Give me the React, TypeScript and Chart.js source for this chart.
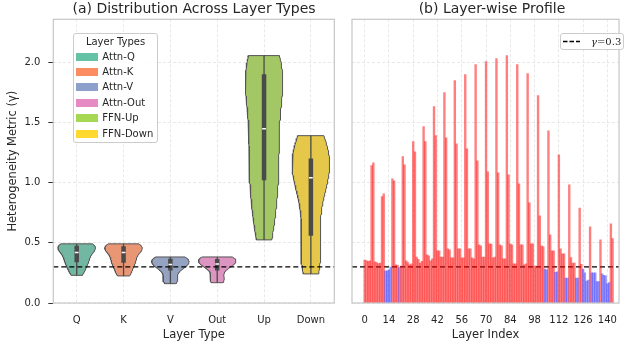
import React, { useEffect, useRef } from 'react';
import { Chart, registerables } from 'chart.js';

Chart.register(...registerables);

// ---------------- data ----------------
const TYPE_LABELS = ['Q', 'K', 'V', 'Out', 'Up', 'Down'];
const LEGEND_LABELS = ['Attn-Q', 'Attn-K', 'Attn-V', 'Attn-Out', 'FFN-Up', 'FFN-Down'];
const LEGEND_COLORS = ['#66c2a5', '#fc8d62', '#8da0cb', '#e78ac3', '#a6d854', '#ffd92f'];
const VIOLIN_COLORS = ['#71b7a1', '#e99675', '#95a3c3', '#dc95c0', '#a2c764', '#e5c849'];

// per-block values (24 blocks, 6 linear layers each)
const Q_VALUES = [0.358, 0.342, 0.267, 0.317, 0.35, 0.381, 0.40, 0.433, 0.45, 0.45, 0.45, 0.483, 0.492, 0.483, 0.492, 0.483, 0.492, 0.475, 0.433, 0.408, 0.333, 0.283, 0.25, 0.23];
const K_VALUES = [0.353, 0.336, 0.267, 0.314, 0.336, 0.364, 0.392, 0.433, 0.442, 0.45, 0.45, 0.475, 0.49, 0.475, 0.483, 0.483, 0.492, 0.47, 0.433, 0.408, 0.333, 0.25, 0.25, 0.225];
const V_VALUES = [0.347, 0.328, 0.275, 0.295, 0.317, 0.333, 0.35, 0.383, 0.375, 0.375, 0.375, 0.383, 0.375, 0.367, 0.325, 0.317, 0.308, 0.283, 0.256, 0.208, 0.208, 0.183, 0.178, 0.161];
const OUT_VALUES = [0.35, 0.333, 0.298, 0.308, 0.325, 0.347, 0.367, 0.383, 0.375, 0.375, 0.367, 0.383, 0.383, 0.367, 0.325, 0.325, 0.308, 0.275, 0.26, 0.208, 0.208, 0.19, 0.178, 0.169];
const UP_VALUES = [1.144, 0.886, 1.033, 1.217, 1.342, 1.467, 1.633, 1.75, 1.85, 1.9, 1.983, 2.008, 2.033, 2.058, 1.983, 1.908, 1.725, 1.433, 1.233, 0.983, 0.789, 0.633, 0.525, 0.658];
const DOWN_VALUES = [1.167, 0.908, 1.017, 1.15, 1.258, 1.342, 1.392, 1.375, 1.325, 1.283, 1.183, 1.092, 1.083, 1.067, 0.992, 0.833, 0.725, 0.567, 0.45, 0.378, 0.322, 0.25, 0.242, 0.536];

const THRESHOLD = 0.3;
const Y_TICKS = [0, 0.5, 1.0, 1.5, 2.0];
const X_TICKS = [0, 14, 28, 42, 56, 70, 84, 98, 112, 126, 140];

const FONT = "'DejaVu Sans', sans-serif";
const TEXT = '#262626';
const GRID = '#e2e2e2';
const LINE = '#4a4a4a';

// ---------------- helpers ----------------
function quantile(sorted: number[], p: number) {
  const pos = (sorted.length - 1) * p;
  const lo = Math.floor(pos);
  const hi = Math.ceil(pos);
  return sorted[lo] + (sorted[hi] - sorted[lo]) * (pos - lo);
}

function kde(values: number[], n = 100) {
  const N = values.length;
  const mean = values.reduce((a, b) => a + b, 0) / N;
  const sd = Math.sqrt(values.reduce((a, b) => a + (b - mean) ** 2, 0) / (N - 1));
  const bw = sd * Math.pow(N, -0.2);
  const lo = Math.min(...values);
  const hi = Math.max(...values);
  const ys: number[] = [];
  const ds: number[] = [];
  for (let k = 0; k <= n; k++) {
    const y = lo + ((hi - lo) * k) / n;
    let d = 0;
    for (const v of values) d += Math.exp(-0.5 * ((y - v) / bw) ** 2);
    ys.push(y);
    ds.push(d);
  }
  const mx = Math.max(...ds);
  return { ys, ws: ds.map((d) => (0.4 * d) / mx) };
}

const framePlugin = {
  id: 'frame',
  afterDraw(chart: any) {
    const { ctx, chartArea: a } = chart;
    ctx.save();
    ctx.strokeStyle = '#c6c6c6';
    ctx.lineWidth = 1.2;
    ctx.strokeRect(a.left, a.top, a.right - a.left, a.bottom - a.top);
    ctx.restore();
  },
};

export default function App() {
  const leftRef = useRef<HTMLCanvasElement>(null);
  const rightRef = useRef<HTMLCanvasElement>(null);

  useEffect(() => {
    const groups = [Q_VALUES, K_VALUES, V_VALUES, OUT_VALUES, UP_VALUES, DOWN_VALUES];
    const layerValues: number[] = [];
    for (let b = 0; b < Q_VALUES.length; b++) groups.forEach((g) => layerValues.push(g[b]));

    // ----- left: violins -----
    const leftSets: any[] = [];
    leftSets.push({
      data: [{ x: -0.5, y: THRESHOLD }, { x: 5.5, y: THRESHOLD }],
      borderColor: '#000', borderWidth: 1.3, borderDash: [5, 3], pointRadius: 0, order: 0,
    });
    groups.forEach((vals, i) => {
      const sorted = [...vals].sort((a, b) => a - b);
      const q1 = quantile(sorted, 0.25);
      const q3 = quantile(sorted, 0.75);
      const med = quantile(sorted, 0.5);
      const iqr = q3 - q1;
      const wlo = Math.max(sorted[0], q1 - 1.5 * iqr);
      const whi = Math.min(sorted[sorted.length - 1], q3 + 1.5 * iqr);
      const { ys, ws } = kde(vals);
      const pts: any[] = [];
      for (let k = 0; k < ys.length; k++) pts.push({ x: i + ws[k], y: ys[k] });
      for (let k = ys.length - 1; k >= 0; k--) pts.push({ x: i - ws[k], y: ys[k] });
      pts.push({ ...pts[0] });
      leftSets.push({
        data: pts, borderColor: '#555', borderWidth: 1, backgroundColor: VIOLIN_COLORS[i],
        fill: 'shape', pointRadius: 0, tension: 0, order: 4,
      });
      leftSets.push({
        data: [{ x: i, y: wlo }, { x: i, y: whi }], borderColor: LINE, borderWidth: 1.3, pointRadius: 0, order: 3,
      });
      leftSets.push({
        data: [{ x: i, y: q1 }, { x: i, y: q3 }], borderColor: LINE, borderWidth: 4.5, borderCapStyle: 'butt', pointRadius: 0, order: 2,
      });
      leftSets.push({
        data: [{ x: i - 0.04, y: med }, { x: i + 0.04, y: med }], borderColor: '#fff', borderWidth: 1.5, pointRadius: 0, order: 1,
      });
    });

    const yCommon = {
      type: 'linear', min: 0, max: 2.36,
      afterBuildTicks: (s: any) => { s.ticks = Y_TICKS.map((v) => ({ value: v })); },
    };

    const left = new Chart(leftRef.current as HTMLCanvasElement, {
      type: 'line',
      data: { datasets: leftSets },
      options: {
        animation: false, responsive: false, events: [],
        layout: { padding: { left: 0, right: 5.7, top: 19.3, bottom: 0 } },
        plugins: { legend: { display: false }, tooltip: { enabled: false } },
        scales: {
          x: {
            type: 'linear', min: -0.5, max: 5.5,
            afterBuildTicks: (s: any) => { s.ticks = TYPE_LABELS.map((_, i) => ({ value: i })); },
            afterFit: (s: any) => { s.height = 44; },
            ticks: { callback: (v: any) => TYPE_LABELS[v] ?? '', padding: 11, color: TEXT, font: { size: 10, family: FONT }, autoSkip: false, maxRotation: 0 },
            grid: { color: GRID, lineWidth: 0.8, drawTicks: false },
            border: { display: false, dash: [3, 2] },
            title: { display: true, text: 'Layer Type', color: TEXT, font: { size: 11.5, family: FONT }, padding: { top: 0, bottom: 5.1 } },
          },
          y: {
            ...yCommon,
            afterFit: (s: any) => { s.width = 53.3; },
            ticks: { callback: (v: any) => Number(v).toFixed(1), padding: 8, color: TEXT, font: { size: 10, family: FONT } },
            grid: { color: GRID, lineWidth: 0.8, drawTicks: true, tickLength: 5, tickColor: '#333', tickWidth: 1, tickBorderDash: [] },
            border: { display: false, dash: [3, 2] },
            title: { display: true, text: 'Heterogeneity Metric (γ)', color: TEXT, font: { size: 11.5, family: FONT }, padding: { top: 6.6, bottom: 0 } },
          },
        },
      } as any,
      plugins: [framePlugin],
    });

    // ----- right: layer-wise bars -----
    const barData = layerValues.map((v, i) => ({ x: i, y: v }));
    const barColors = layerValues.map((v) => (v >= THRESHOLD ? 'rgba(255,0,0,0.5)' : 'rgba(0,0,255,0.4)'));

    const right = new Chart(rightRef.current as HTMLCanvasElement, {
      type: 'bar',
      data: {
        datasets: [
          {
            type: 'bar', data: barData, backgroundColor: barColors, borderWidth: 0,
            barPercentage: 1, categoryPercentage: 1, grouped: false, order: 0,
          } as any,
          {
            type: 'line', data: [{ x: -7.3, y: THRESHOLD }, { x: 146.7, y: THRESHOLD }],
            borderColor: '#000', borderWidth: 1.3, borderDash: [5, 3], pointRadius: 0, order: 1,
          } as any,
        ],
      },
      options: {
        animation: false, responsive: false, events: [],
        layout: { padding: { left: 0, right: 1, top: 19.3, bottom: 0 } },
        plugins: { legend: { display: false }, tooltip: { enabled: false } },
        scales: {
          x: {
            type: 'linear', min: -7.3, max: 146.7, offset: false,
            afterBuildTicks: (s: any) => { s.ticks = X_TICKS.map((v) => ({ value: v })); },
            afterFit: (s: any) => { s.height = 44; },
            ticks: { padding: 11, color: TEXT, font: { size: 10, family: FONT }, autoSkip: false, maxRotation: 0 },
            grid: { color: GRID, lineWidth: 0.8, drawTicks: false, offset: false },
            border: { display: false, dash: [3, 2] },
            title: { display: true, text: 'Layer Index', color: TEXT, font: { size: 11.5, family: FONT }, padding: { top: 0, bottom: 5.1 } },
          },
          y: {
            ...yCommon,
            afterFit: (s: any) => { s.width = 12; },
            ticks: { display: false },
            grid: { color: GRID, lineWidth: 0.8, drawTicks: false },
            border: { display: false, dash: [3, 2] },
          },
        },
      } as any,
      plugins: [framePlugin],
    });

    return () => {
      left.destroy();
      right.destroy();
    };
  }, []);

  const titleStyle: React.CSSProperties = {
    position: 'absolute', top: 0, height: 17, lineHeight: '17px', width: 320,
    textAlign: 'center', fontFamily: FONT, fontSize: 14, color: TEXT, whiteSpace: 'nowrap',
  };

  return (
    <div style={{ position: 'absolute', left: 0, top: 0, width: 628, height: 347, background: '#fff', overflow: 'hidden' }}>
      <canvas ref={leftRef} width={340} height={347} style={{ position: 'absolute', left: 0, top: 0, width: 340, height: 347 }} />
      <canvas ref={rightRef} width={288} height={347} style={{ position: 'absolute', left: 340, top: 0, width: 288, height: 347 }} />
      <div style={{ ...titleStyle, left: 194 - 160 }}>(a) Distribution Across Layer Types</div>
      <div style={{ ...titleStyle, left: 492 - 160 }}>(b) Layer-wise Profile</div>

      {/* left legend */}
      <div style={{
        position: 'absolute', left: 73, top: 33, width: 85, height: 110, boxSizing: 'border-box',
        border: '1px solid #cccccc', borderRadius: 3, background: 'rgba(255,255,255,0.85)',
        fontFamily: FONT, fontSize: 10, color: TEXT,
      }}>
        <div style={{ position: 'absolute', left: 0, top: 2, width: 83, textAlign: 'center', lineHeight: '12px' }}>Layer Types</div>
        {LEGEND_LABELS.map((lab, i) => (
          <div key={lab} style={{ position: 'absolute', left: 0, top: 16.5 + i * 15.4, height: 12, width: 83 }}>
            <div style={{ position: 'absolute', left: 2, top: 2, width: 22, height: 8, background: LEGEND_COLORS[i] }} />
            <div style={{ position: 'absolute', left: 28.3, top: 0, lineHeight: '12px', whiteSpace: 'nowrap' }}>{lab}</div>
          </div>
        ))}
      </div>

      {/* right legend */}
      <div style={{
        position: 'absolute', left: 560, top: 33, width: 64, height: 17, boxSizing: 'border-box',
        border: '1px solid #cccccc', borderRadius: 3, background: 'rgba(255,255,255,0.85)',
      }}>
        <svg width={20} height={15} style={{ position: 'absolute', left: 1, top: 0 }}>
          <line x1={1} y1={7.5} x2={18} y2={7.5} stroke="#000" strokeWidth={1.3} strokeDasharray="4.5 2" />
        </svg>
        <div style={{ position: 'absolute', left: 30, top: 0, lineHeight: '15px', fontFamily: "'DejaVu Serif', serif", fontSize: 10, color: TEXT, whiteSpace: 'nowrap' }}>
          <i>γ</i>=0.3
        </div>
      </div>
    </div>
  );
}
